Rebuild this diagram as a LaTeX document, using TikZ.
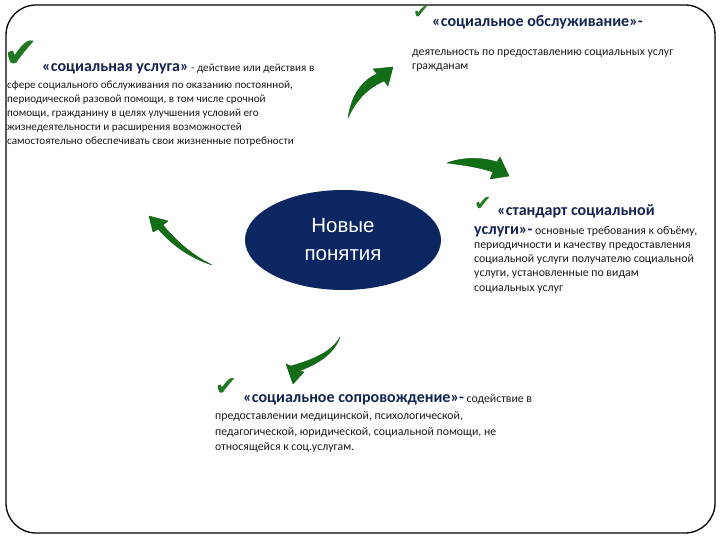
\documentclass[tikz,border=0pt]{standalone}
\usepackage{fontspec}
\setmainfont{Carlito}
\newfontfamily\symf{DejaVu Sans}
\newfontfamily\arialf{Liberation Sans}
\usetikzlibrary{shapes.geometric}
\definecolor{navy}{RGB}{12,38,98}
\definecolor{headc}{RGB}{22,34,80}
\definecolor{arrg}{RGB}{18,110,22}
\definecolor{chkg}{RGB}{34,120,34}
\newcommand{\bodyf}{\fontsize{11.8}{14}\selectfont}
\newcommand{\bodyfa}{\fontsize{11.1}{14}\selectfont}
\newcommand{\headf}{\fontsize{16}{18}\selectfont\bfseries\color{headc}}
\begin{document}
\begin{tikzpicture}[x=1pt,y=-1pt,
  txt/.style={anchor=base west,inner sep=0pt,font=\bodyf,text=black!90},
  txta/.style={txt,font=\bodyfa},
  chk/.style={inner sep=0pt,text=chkg,font=\symf\fontsize{#1}{#1}\selectfont},
  chk/.default=20,
  greenarrow/.style={fill=arrg,draw=arrg!80!black,line width=0.4pt,line join=round}]
\useasboundingbox (0,0) rectangle (720,540);
\draw[line width=1.3pt,rounded corners=30pt] (6,5) rectangle (715,533);

% block 1
\node[chk=42] (c1) at (21,54) {✔};
\node[txta] (h1) at (42,72) {{\headf «социальная услуга»} - действие или действия в};
\node[txta] (a1) at (7,89) {сфере социального обслуживания по оказанию постоянной,};
\node[txta] (a2) at (7,103) {периодической разовой помощи, в том числе срочной};
\node[txta] (a3) at (7,117) {помощи, гражданину в целях улучшения условий его};
\node[txta] (a4) at (7,131) {жизнедеятельности и расширения возможностей};
\node[txta] (a5) at (7,145) {самостоятельно обеспечивать свои жизненные потребности};

% block 2
\node[chk=19] (c2) at (421,13) {✔};
\node[txt] (h2) at (432,27) {\headf «социальное обслуживание»-};
\node[txt] (b1) at (412,56) {деятельность по предоставлению социальных услуг};
\node[txt] (b2) at (412,70) {гражданам};

% block 3
\node[chk=21] (c3) at (483,204) {✔};
\node[txt] (h3) at (497,215) {\headf «стандарт социальной};
\node[txt] (s0) at (474,234) {{\headf услуги»-} основные требования к объёму,};
\node[txt] (s1) at (474,248) {периодичности и качеству предоставления};
\node[txt] (s2) at (474,262) {социальной услуги получателю социальной};
\node[txt] (s3) at (474,276) {услуги, установленные по видам};
\node[txt] (s4) at (474,291) {социальных услуг};

% block 4
\node[chk=27] (c4) at (226,387) {✔};
\node[txt] (h4) at (243,402) {{\headf «социальное сопровождение»-} содействие в};
\node[txt] (d1) at (215,419) {предоставлении медицинской, психологической,};
\node[txt] (d2) at (215,435) {педагогической, юридической, социальной помощи, не};
\node[txt] (d3) at (215,450) {относящейся к соц.услугам.};

% centre
\node[ellipse,fill=navy,minimum width=196pt,minimum height=100pt,inner sep=0pt,
      align=center,text=white,font=\arialf\fontsize{20.5}{28}\selectfont] (cen) at (343,240) {Новые\\понятия};

% arrows
\fill[greenarrow] (348,118) .. controls (356,100) and (368,88) .. (384,81)
  -- (388,86) -- (393,67) -- (373,69) -- (377,74)
  .. controls (362,80) and (351,96) .. cycle;
\fill[greenarrow] (447,163) .. controls (462,157) and (482,157) .. (497,162)
  -- (500,157) -- (509,176) -- (490,179) -- (493,172)
  .. controls (478,167) and (462,165) .. cycle;
\fill[greenarrow] (340,337) .. controls (332,352) and (312,360) .. (291,366)
  -- (286,364) -- (293,384) -- (304,372) -- (299,371)
  .. controls (318,364) and (334,354) .. cycle;
\fill[greenarrow] (212,265) .. controls (190,258) and (172,245) .. (158,229)
  -- (153,232) -- (149,216) -- (168,221) -- (163,225)
  .. controls (175,240) and (192,255) .. cycle;
\end{tikzpicture}
\end{document}
